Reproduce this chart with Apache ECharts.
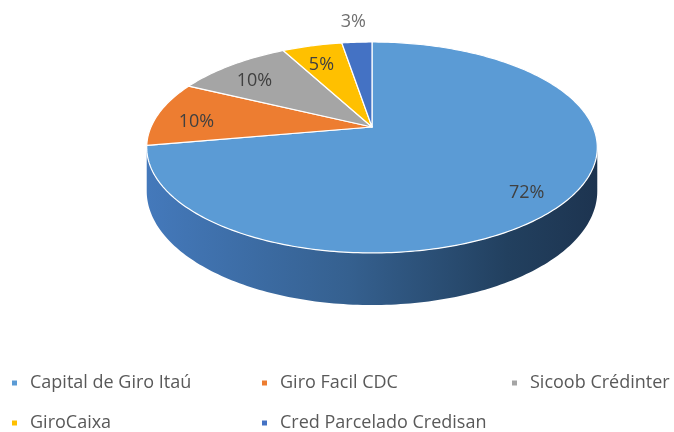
<!DOCTYPE html>
<html>
<head>
<meta charset="utf-8">
<script src="https://cdn.jsdelivr.net/npm/echarts@6/dist/echarts.min.js"></script>
<style>
html,body{margin:0;padding:0;background:#fff;}
#chart{width:674px;height:432px;}
</style>
</head>
<body>
<div id="chart"></div>
<script>
const categories = ['Capital de Giro Itaú', 'Giro Facil CDC', 'Sicoob Crédinter', 'GiroCaixa', 'Cred Parcelado Credisan'];
const values = [72.2, 10.0, 10.0, 5.2, 2.6];
const colors = ['#5b9bd5', '#ed7d31', '#a5a5a5', '#ffc000', '#4472c4'];

const total = values.reduce((a, b) => a + b, 0);
const starts = [];
let acc = 0;
values.forEach(v => { starts.push(acc); acc += v; });

// projection geometry (layout)
const G = { cx: 372, cy: 127, A: 221, B: 101.5, k: 0.194, D: 42 };
const visLo = Math.PI / 2 + Math.asin(G.k);
const visHi = 3 * Math.PI / 2 - Math.asin(G.k);
const FONT = '"Open Sans", Lato, sans-serif';

function proj(theta, r, drop) {
  const x = Math.sin(theta) * r, y = Math.cos(theta) * r;
  const den = 1 + G.k * y;
  return [G.cx + G.A * x / den, G.cy - G.B * y / den + (drop || 0) / den];
}
function arc(t1, t2, r, drop) {
  const pts = [];
  const n = Math.max(2, Math.ceil((t2 - t1) / (Math.PI / 180)));
  for (let i = 0; i <= n; i++) pts.push(proj(t1 + (t2 - t1) * i / n, r, drop));
  return pts;
}

function renderItem(params, api) {
  const idx = params.seriesIndex;
  const v = api.value(0), s = api.value(1);
  const t1 = s / total * 2 * Math.PI, t2 = (s + v) / total * 2 * Math.PI;
  const children = [];
  const a = Math.max(t1, visLo), b = Math.min(t2, visHi);
  if (b > a) {
    const up = arc(a, b, 1, 0);
    const low = arc(a, b, 1, G.D).reverse();
    children.push({
      type: 'polygon',
      shape: { points: up.concat(low) },
      style: {
        fill: {
          type: 'linear', x: G.cx - G.A * 1.02, y: 0, x2: G.cx + G.A * 1.02, y2: 0, global: true,
          colorStops: [
            { offset: 0, color: '#4479bb' },
            { offset: 0.45, color: '#35608f' },
            { offset: 0.8, color: '#22405f' },
            { offset: 1, color: '#1d3450' }
          ]
        }
      }
    });
  }
  const top = [[G.cx, G.cy]].concat(arc(t1, t2, 1, 0));
  children.push({
    type: 'polygon',
    shape: { points: top },
    style: { fill: colors[idx], stroke: '#ffffff', lineWidth: 1.2, lineJoin: 'round' }
  });
  const mid = (t1 + t2) / 2;
  const outside = v / total < 0.04;
  const p = proj(mid, outside ? 1.3 : 0.82, 0);
  children.push({
    type: 'text',
    x: p[0], y: p[1] + (outside ? 0 : 6),
    style: {
      text: Math.round(v / total * 100) + '%', fill: outside ? '#707070' : '#404040',
      font: '18px ' + FONT, align: 'center', verticalAlign: 'middle'
    }
  });
  return { type: 'group', children };
}

const series = categories.map((name, i) => ({
  type: 'custom',
  name: name,
  coordinateSystem: 'none',
  itemStyle: { color: colors[i] },
  data: [[values[i], starts[i]]],
  renderItem: renderItem,
  silent: true
}));

const legendCommon = {
  orient: 'horizontal',
  left: 12,
  width: 900,
  padding: 0,
  icon: 'rect',
  itemWidth: 5,
  itemHeight: 5,
  itemGap: 8,
  selectedMode: false,
  textStyle: {
    color: '#595959', fontSize: 18, fontFamily: FONT,
    width: 224, lineHeight: 22, padding: [0, 0, 0, 8]
  }
};

const chart = echarts.init(document.getElementById('chart'));
chart.setOption({
  backgroundColor: '#ffffff',
  animation: false,
  legend: [
    Object.assign({}, legendCommon, { top: 372, data: categories.slice(0, 3) }),
    Object.assign({}, legendCommon, { top: 412, data: categories.slice(3) })
  ],
  series: series
});
</script>
</body>
</html>
